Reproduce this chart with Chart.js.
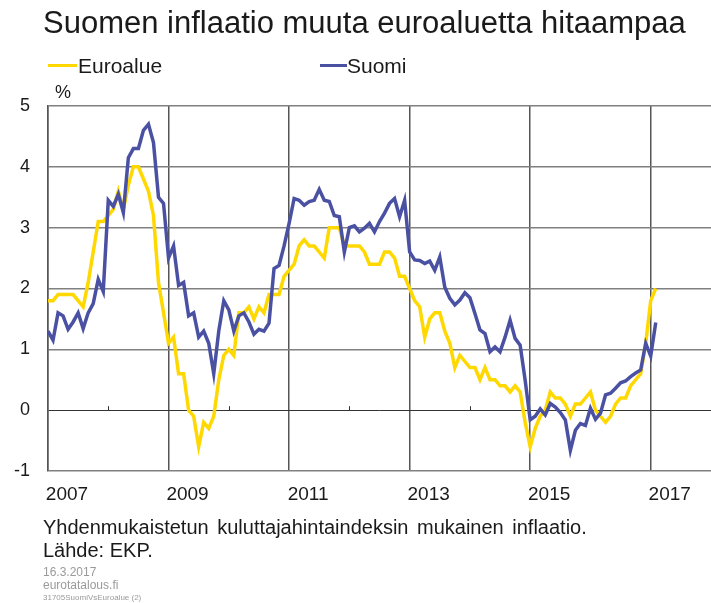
<!DOCTYPE html>
<html>
<head>
<meta charset="utf-8">
<script src="https://cdn.jsdelivr.net/npm/chart.js@4/dist/chart.umd.min.js"></script>
<style>
  html, body { margin: 0; padding: 0; background: #fff; }
  #wrap { position: relative; width: 711px; height: 603px; overflow: hidden; font-family: "Liberation Sans", Arial, sans-serif; }
  #c { position: absolute; left: 0; top: 0; }
  .t { position: absolute; white-space: nowrap; line-height: 1; color: #1a1a1a; }
  .sw { position: absolute; height: 3px; }
</style>
</head>
<body>
<div id="wrap">
  <canvas id="c" width="711" height="603"></canvas>
  <div class="t" style="left:43px; top:7px; font-size:31px;">Suomen inflaatio muuta euroaluetta hitaampaa</div>
  <div class="sw" style="left:48px; top:64px; width:29px; background:#FFD800;"></div>
  <div class="t" style="left:78px; top:55px; font-size:21px;">Euroalue</div>
  <div class="sw" style="left:320px; top:64px; width:27px; background:#4A51A3;"></div>
  <div class="t" style="left:347px; top:55px; font-size:21px;">Suomi</div>
  <div class="t" style="left:55px; top:83px; font-size:18px;">%</div>
  <div class="t" style="left:43px; top:517px; font-size:20px; word-spacing:3px;">Yhdenmukaistetun kuluttajahintaindeksin mukainen inflaatio.</div>
  <div class="t" style="left:43px; top:540px; font-size:20px;">Lähde: EKP.</div>
  <div class="t" style="left:43px; top:566px; font-size:12px; color:#9a9a9a;">16.3.2017</div>
  <div class="t" style="left:43px; top:579px; font-size:12px; color:#9a9a9a;">eurotatalous.fi</div>
  <div class="t" style="left:43px; top:594px; font-size:8px; color:#9a9a9a;">31705SuomiVsEuroalue (2)</div>
</div>
<script>
// Month index 0 = 2007-01 ... 121 = 2017-02
const startYear = 2007;
const yearTicks = [2007, 2009, 2011, 2013, 2015, 2017];
const minorTickYears = [2008, 2010, 2012, 2014, 2016];
const yTicks = [-1, 0, 1, 2, 3, 4, 5];

// Euroalue, HICP annual change, %
const euroalue = [
  1.8, 1.8, 1.9, 1.9, 1.9, 1.9, 1.8, 1.7, 2.1, 2.6, 3.1, 3.1,
  3.2, 3.3, 3.6, 3.3, 3.7, 4.0, 4.0, 3.8, 3.6, 3.2, 2.1, 1.6,
  1.1, 1.2, 0.6, 0.6, 0.0, -0.1, -0.6, -0.2, -0.3, -0.1, 0.5, 0.9,
  1.0, 0.9, 1.6, 1.6, 1.7, 1.5, 1.7, 1.6, 1.9, 1.9, 1.9, 2.2,
  2.3, 2.4, 2.7, 2.8, 2.7, 2.7, 2.6, 2.5, 3.0, 3.0, 3.0, 2.7,
  2.7, 2.7, 2.7, 2.6, 2.4, 2.4, 2.4, 2.6, 2.6, 2.5, 2.2, 2.2,
  2.0, 1.8, 1.7, 1.2, 1.5, 1.6, 1.6, 1.3, 1.1, 0.7, 0.9, 0.8,
  0.7, 0.7, 0.5, 0.7, 0.5, 0.5, 0.4, 0.4, 0.3, 0.4, 0.3, -0.2,
  -0.6, -0.3, -0.1, 0.0, 0.3, 0.2, 0.2, 0.1, -0.1, 0.1, 0.1, 0.2,
  0.3, 0.0, -0.1, -0.2, -0.1, 0.1, 0.2, 0.2, 0.4, 0.5, 0.6, 1.1,
  1.8, 2.0
];

// Suomi, HICP annual change, %
const suomi = [
  1.3, 1.15, 1.6, 1.55, 1.33, 1.45, 1.6, 1.34, 1.6, 1.75, 2.15, 1.95,
  3.45, 3.35, 3.55, 3.25, 4.15, 4.3, 4.3, 4.6, 4.7, 4.4, 3.5, 3.4,
  2.5, 2.7, 2.05, 2.1, 1.55, 1.6, 1.2, 1.3, 1.1, 0.6, 1.3, 1.8,
  1.65, 1.3, 1.55, 1.6, 1.45, 1.25, 1.33, 1.3, 1.43, 2.33, 2.38, 2.7,
  3.07, 3.48, 3.45, 3.37, 3.43, 3.45, 3.63, 3.45, 3.43, 3.2, 3.18, 2.6,
  3.0, 3.03, 2.93, 2.99, 3.07, 2.93, 3.1, 3.24, 3.4, 3.48, 3.18, 3.45,
  2.6, 2.47, 2.46, 2.41, 2.45, 2.3, 2.52, 2.02, 1.84, 1.73, 1.81, 1.93,
  1.85, 1.59, 1.32, 1.26, 0.96, 1.04, 0.96, 1.2, 1.48, 1.18, 1.07, 0.49,
  -0.16, -0.1, 0.02, -0.08, 0.11, 0.05, -0.04, -0.16, -0.66, -0.33, -0.22, -0.25,
  0.03, -0.15, -0.05, 0.25, 0.28, 0.36, 0.45, 0.48, 0.55, 0.61, 0.66, 1.1,
  0.89, 1.44
];

const toPoints = arr => arr.map((v, i) => ({ x: i, y: v }));
const yearToIndex = y => (y - startYear) * 12;

const minorTicks = {
  id: 'minorTicks',
  beforeDatasetsDraw(chart) {
    const { ctx, scales: { x, y } } = chart;
    const y0 = y.getPixelForValue(0);
    ctx.save();
    ctx.strokeStyle = '#333';
    ctx.lineWidth = 1;
    minorTickYears.forEach(yr => {
      const px = Math.round(x.getPixelForValue(yearToIndex(yr))) + 0.5;
      ctx.beginPath();
      ctx.moveTo(px, y0);
      ctx.lineTo(px, y0 - 4);
      ctx.stroke();
    });
    ctx.restore();
  }
};

new Chart(document.getElementById('c'), {
  type: 'line',
  data: {
    datasets: [
      { label: 'Euroalue', data: toPoints(euroalue), borderColor: '#FFD800', borderWidth: 3.5, pointRadius: 0, tension: 0, order: 2 },
      { label: 'Suomi', data: toPoints(suomi), borderColor: '#4A51A3', borderWidth: 3.5, pointRadius: 0, tension: 0, order: 1 }
    ]
  },
  options: {
    responsive: false,
    animation: false,
    events: [],
    layout: { padding: { top: 106, bottom: 100, left: 0, right: 0 } },
    plugins: { legend: { display: false }, title: { display: false }, tooltip: { enabled: false } },
    scales: {
      x: {
        type: 'linear',
        min: 0,
        max: 132,
        afterBuildTicks: axis => { axis.ticks = yearTicks.map(yr => ({ value: yearToIndex(yr) })); },
        afterFit: s => { s.height = 32; },
        grid: { color: '#555', lineWidth: 1.5, drawTicks: false },
        border: { display: false },
        ticks: {
          autoSkip: false,
          maxRotation: 0,
          padding: 12,
          labelOffset: 19,
          color: '#1a1a1a',
          font: { family: '"Liberation Sans", Arial, sans-serif', size: 19 },
          callback: v => String(startYear + v / 12)
        }
      },
      y: {
        min: -1,
        max: 5,
        afterBuildTicks: axis => { axis.ticks = yTicks.map(v => ({ value: v })); },
        afterFit: s => { s.width = 48; },
        grid: {
          color: ctx => ctx.tick && ctx.tick.value === 0 ? '#333' : '#808080',
          lineWidth: ctx => ctx.tick && ctx.tick.value === 0 ? 1 : 1.5,
          drawTicks: false
        },
        border: { display: true, color: '#555', width: 1.5 },
        ticks: {
          padding: 18,
          color: '#1a1a1a',
          font: { family: '"Liberation Sans", Arial, sans-serif', size: 18 }
        }
      }
    }
  },
  plugins: [minorTicks]
});
</script>
</body>
</html>
